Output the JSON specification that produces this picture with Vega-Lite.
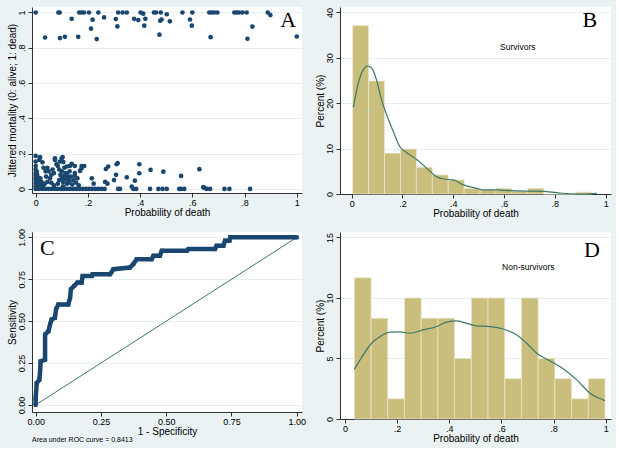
{
  "$schema": "https://vega.github.io/schema/vega-lite/v6.json",
  "background": "#EAF2F3",
  "padding": {"left": 7, "top": 7, "right": 5, "bottom": 5},
  "bounds": "flush",
  "spacing": 38,
  "columns": 2,
  "config": {
    "view": {"fill": "white", "stroke": null},
    "font": "Liberation Sans",
    "axis": {
      "labelFont": "Liberation Sans", "labelFontSize": 9, "labelColor": "black",
      "titleFont": "Liberation Sans", "titleFontSize": 10, "titleFontWeight": "normal", "titleColor": "black",
      "domainColor": "#333333", "tickColor": "#333333", "tickSize": 4, "labelPadding": 1,
      "grid": false, "labelOverlap": false
    },
    "axisX": {"titlePadding": 0},
    "axisY": {"grid": true, "gridColor": "#E6EEF0", "labelAngle": 270, "labelAlign": "center", "labelBaseline": "bottom", "titlePadding": 0, "labelOverlap": false, "labelPadding": 2},
    "title": {"font": "Liberation Sans", "fontWeight": "normal", "color": "black"}
  },
  "datasets": {
    "one": [{}],
    "scatter": [
      {"p": 0, "m": 1}, {"p": 0.087, "m": 1}, {"p": 0.092, "m": 1}, {"p": 0.167, "m": 1}, {"p": 0.176, "m": 1}, {"p": 0.185, "m": 1}, {"p": 0.204, "m": 1}, {"p": 0.24, "m": 1}, {"p": 0.316, "m": 1}, {"p": 0.333, "m": 1}, {"p": 0.349, "m": 1}, {"p": 0.402, "m": 1}, {"p": 0.412, "m": 0.993}, {"p": 0.453, "m": 1}, {"p": 0.461, "m": 1}, {"p": 0.479, "m": 1}, {"p": 0.502, "m": 0.99}, {"p": 0.562, "m": 1}, {"p": 0.6, "m": 1}, {"p": 0.665, "m": 1}, {"p": 0.674, "m": 1}, {"p": 0.683, "m": 1}, {"p": 0.696, "m": 1}, {"p": 0.761, "m": 1}, {"p": 0.77, "m": 1}, {"p": 0.779, "m": 1}, {"p": 0.792, "m": 1}, {"p": 0.808, "m": 1}, {"p": 0.889, "m": 1}, {"p": 0.899, "m": 0.985},
      {"p": 0.138, "m": 0.964}, {"p": 0.218, "m": 0.959}, {"p": 0.262, "m": 0.972}, {"p": 0.307, "m": 0.963}, {"p": 0.377, "m": 0.964}, {"p": 0.393, "m": 0.957}, {"p": 0.42, "m": 0.964}, {"p": 0.477, "m": 0.953}, {"p": 0.482, "m": 0.96}, {"p": 0.212, "m": 0.908}, {"p": 0.313, "m": 0.921}, {"p": 0.416, "m": 0.925}, {"p": 0.036, "m": 0.858}, {"p": 0.093, "m": 0.855}, {"p": 0.112, "m": 0.862}, {"p": 0.163, "m": 0.862}, {"p": 0.234, "m": 0.849}, {"p": 0.474, "m": 0.874}, {"p": 0.514, "m": 0.95}, {"p": 0.591, "m": 0.96}, {"p": 0.598, "m": 0.925}, {"p": 0.83, "m": 0.92}, {"p": 0.67, "m": 0.86}, {"p": 0.811, "m": 0.851}, {"p": 1.0, "m": 0.864},
      {"p": 0, "m": 0}, {"p": 0.012, "m": 0}, {"p": 0.024, "m": 0}, {"p": 0.036, "m": 0}, {"p": 0.048, "m": 0}, {"p": 0.06, "m": 0}, {"p": 0.072, "m": 0}, {"p": 0.084, "m": 0}, {"p": 0.096, "m": 0}, {"p": 0.108, "m": 0}, {"p": 0.12, "m": 0}, {"p": 0.132, "m": 0}, {"p": 0.144, "m": 0}, {"p": 0.156, "m": 0}, {"p": 0.168, "m": 0}, {"p": 0.18, "m": 0}, {"p": 0.192, "m": 0}, {"p": 0.204, "m": 0}, {"p": 0.216, "m": 0}, {"p": 0.228, "m": 0}, {"p": 0.24, "m": 0}, {"p": 0.252, "m": 0}, {"p": 0.264, "m": 0}, {"p": 0.316, "m": 0}, {"p": 0.323, "m": 0}, {"p": 0.374, "m": 0}, {"p": 0.385, "m": 0}, {"p": 0.438, "m": 0}, {"p": 0.47, "m": 0}, {"p": 0.486, "m": 0}, {"p": 0.502, "m": 0}, {"p": 0.55, "m": 0}, {"p": 0.557, "m": 0}, {"p": 0.569, "m": 0}, {"p": 0.655, "m": 0}, {"p": 0.668, "m": 0}, {"p": 0.723, "m": 0}, {"p": 0.742, "m": 0}, {"p": 0.821, "m": 0},
      {"p": 0, "m": 0.187}, {"p": 0, "m": 0.155}, {"p": 0, "m": 0.13}, {"p": 0, "m": 0.11}, {"p": 0, "m": 0.09}, {"p": 0, "m": 0.075}, {"p": 0, "m": 0.06}, {"p": 0, "m": 0.045}, {"p": 0, "m": 0.03}, {"p": 0, "m": 0.015}, {"p": 0.004, "m": 0.1}, {"p": 0.004, "m": 0.05}, {"p": 0.006, "m": 0.08}, {"p": 0.006, "m": 0.02}, {"p": 0.008, "m": 0.065}, {"p": 0.008, "m": 0.035}, {"p": 0.01, "m": 0.01}, {"p": 0.012, "m": 0.045}, {"p": 0.017, "m": 0.18}, {"p": 0.014, "m": 0.165}, {"p": 0.015, "m": 0.025}, {"p": 0.018, "m": 0.06}, {"p": 0.02, "m": 0.012}, {"p": 0.022, "m": 0.04}, {"p": 0.026, "m": 0.151}, {"p": 0.028, "m": 0.02}, {"p": 0.03, "m": 0.005}, {"p": 0.03, "m": 0.12}, {"p": 0.035, "m": 0.03}, {"p": 0.038, "m": 0.1},
      {"p": 0.045, "m": 0.12}, {"p": 0.05, "m": 0.1}, {"p": 0.055, "m": 0.06}, {"p": 0.06, "m": 0.08}, {"p": 0.065, "m": 0.11}, {"p": 0.074, "m": 0.174}, {"p": 0.074, "m": 0.164}, {"p": 0.08, "m": 0.14}, {"p": 0.085, "m": 0.13}, {"p": 0.093, "m": 0.155}, {"p": 0.1, "m": 0.174}, {"p": 0.103, "m": 0.18}, {"p": 0.106, "m": 0.152}, {"p": 0.11, "m": 0.12}, {"p": 0.1, "m": 0.1}, {"p": 0.095, "m": 0.08}, {"p": 0.09, "m": 0.05}, {"p": 0.085, "m": 0.03}, {"p": 0.1, "m": 0.06}, {"p": 0.105, "m": 0.04}, {"p": 0.11, "m": 0.075}, {"p": 0.115, "m": 0.055}, {"p": 0.12, "m": 0.08}, {"p": 0.12, "m": 0.03}, {"p": 0.125, "m": 0.06}, {"p": 0.13, "m": 0.045}, {"p": 0.135, "m": 0.07}, {"p": 0.119, "m": 0.127}, {"p": 0.131, "m": 0.13}, {"p": 0.138, "m": 0.142}, {"p": 0.14, "m": 0.025}, {"p": 0.145, "m": 0.05}, {"p": 0.15, "m": 0.13}, {"p": 0.15, "m": 0.09}, {"p": 0.155, "m": 0.035}, {"p": 0.16, "m": 0.06}, {"p": 0.17, "m": 0.102}, {"p": 0.176, "m": 0.13}, {"p": 0.186, "m": 0.13}, {"p": 0.176, "m": 0.117}, {"p": 0.165, "m": 0.02}, {"p": 0.07, "m": 0.02}, {"p": 0.06, "m": 0.035}, {"p": 0.045, "m": 0.04}, {"p": 0.04, "m": 0.07}, {"p": 0.15, "m": 0.075}, {"p": 0.13, "m": 0.1}, {"p": 0.115, "m": 0.09}, {"p": 0.125, "m": 0.035}, {"p": 0.105, "m": 0.015}, {"p": 0.09, "m": 0.11}, {"p": 0.07, "m": 0.09},
      {"p": 0.215, "m": 0.06}, {"p": 0.222, "m": 0.03}, {"p": 0.266, "m": 0.04}, {"p": 0.275, "m": 0.03}, {"p": 0.269, "m": 0.113}, {"p": 0.278, "m": 0.127}, {"p": 0.31, "m": 0.14}, {"p": 0.314, "m": 0.146}, {"p": 0.308, "m": 0.08}, {"p": 0.3, "m": 0.05}, {"p": 0.349, "m": 0.066}, {"p": 0.368, "m": 0.013}, {"p": 0.38, "m": 0.047}, {"p": 0.397, "m": 0.14}, {"p": 0.397, "m": 0.089}, {"p": 0.44, "m": 0.108}, {"p": 0.489, "m": 0.098}, {"p": 0.557, "m": 0.074}, {"p": 0.627, "m": 0.112}, {"p": 0.642, "m": 0.01}, {"p": 0.646, "m": 0.006}
    ],
    "histB": [
      {"start": 0.004, "end": 0.0667, "pct": 37.1}, {"start": 0.0667, "end": 0.1294, "pct": 24.9}, {"start": 0.1294, "end": 0.1921, "pct": 9.0}, {"start": 0.1921, "end": 0.2548, "pct": 9.9}, {"start": 0.2548, "end": 0.3175, "pct": 5.9}, {"start": 0.3175, "end": 0.3802, "pct": 4.2}, {"start": 0.3802, "end": 0.4429, "pct": 3.1}, {"start": 0.4429, "end": 0.5056, "pct": 1.25}, {"start": 0.5056, "end": 0.5683, "pct": 0.95}, {"start": 0.5683, "end": 0.631, "pct": 1.25}, {"start": 0.631, "end": 0.6937, "pct": 0.6}, {"start": 0.6937, "end": 0.7564, "pct": 1.25}, {"start": 0.7564, "end": 0.8191, "pct": 0}, {"start": 0.8191, "end": 0.8818, "pct": 0}, {"start": 0.8818, "end": 0.9445, "pct": 0.4}
    ],
    "densB": [
      {"x": 0.0066, "d": 19.1}, {"x": 0.026, "d": 24.4}, {"x": 0.046, "d": 27.4}, {"x": 0.062, "d": 28.2}, {"x": 0.079, "d": 27.7}, {"x": 0.098, "d": 25.1}, {"x": 0.118, "d": 20.7}, {"x": 0.138, "d": 17.4}, {"x": 0.164, "d": 13.75}, {"x": 0.19, "d": 10.4}, {"x": 0.217, "d": 9.1}, {"x": 0.256, "d": 7.6}, {"x": 0.295, "d": 5.7}, {"x": 0.335, "d": 3.8}, {"x": 0.361, "d": 3.3}, {"x": 0.4, "d": 3.1}, {"x": 0.44, "d": 2.0}, {"x": 0.492, "d": 1.25}, {"x": 0.518, "d": 0.9}, {"x": 0.571, "d": 0.9}, {"x": 0.623, "d": 0.75}, {"x": 0.689, "d": 0.65}, {"x": 0.755, "d": 0.6}, {"x": 0.807, "d": 0.3}, {"x": 0.86, "d": 0.05}, {"x": 0.912, "d": 0.0}, {"x": 0.965, "d": 0.15}
    ],
    "roc": [
      {"fpr": 0, "sens": 0}, {"fpr": 0, "sens": 0.04}, {"fpr": 0.004, "sens": 0.13}, {"fpr": 0.014, "sens": 0.15}, {"fpr": 0.017, "sens": 0.2}, {"fpr": 0.019, "sens": 0.26}, {"fpr": 0.036, "sens": 0.27}, {"fpr": 0.036, "sens": 0.42}, {"fpr": 0.049, "sens": 0.44}, {"fpr": 0.055, "sens": 0.48}, {"fpr": 0.061, "sens": 0.51}, {"fpr": 0.074, "sens": 0.52}, {"fpr": 0.078, "sens": 0.57}, {"fpr": 0.087, "sens": 0.6}, {"fpr": 0.125, "sens": 0.6}, {"fpr": 0.132, "sens": 0.64}, {"fpr": 0.135, "sens": 0.69}, {"fpr": 0.147, "sens": 0.71}, {"fpr": 0.16, "sens": 0.73}, {"fpr": 0.176, "sens": 0.73}, {"fpr": 0.18, "sens": 0.77}, {"fpr": 0.215, "sens": 0.77}, {"fpr": 0.218, "sens": 0.78}, {"fpr": 0.285, "sens": 0.78}, {"fpr": 0.298, "sens": 0.81}, {"fpr": 0.361, "sens": 0.82}, {"fpr": 0.374, "sens": 0.84}, {"fpr": 0.387, "sens": 0.87}, {"fpr": 0.444, "sens": 0.87}, {"fpr": 0.451, "sens": 0.89}, {"fpr": 0.476, "sens": 0.89}, {"fpr": 0.483, "sens": 0.92}, {"fpr": 0.579, "sens": 0.92}, {"fpr": 0.585, "sens": 0.93}, {"fpr": 0.687, "sens": 0.93}, {"fpr": 0.693, "sens": 0.95}, {"fpr": 0.719, "sens": 0.95}, {"fpr": 0.725, "sens": 0.98}, {"fpr": 0.742, "sens": 0.98}, {"fpr": 0.745, "sens": 1.0}, {"fpr": 1.0, "sens": 1.0}
    ],
    "diag": [{"fpr": 0, "sens": 0}, {"fpr": 1, "sens": 1}],
    "histD": [
      {"start": 0.036, "end": 0.1001, "pct": 11.67}, {"start": 0.1001, "end": 0.1641, "pct": 8.33}, {"start": 0.1641, "end": 0.2282, "pct": 1.67}, {"start": 0.2282, "end": 0.2923, "pct": 10}, {"start": 0.2923, "end": 0.3564, "pct": 8.33}, {"start": 0.3564, "end": 0.4204, "pct": 8.33}, {"start": 0.4204, "end": 0.4845, "pct": 5}, {"start": 0.4845, "end": 0.5486, "pct": 10}, {"start": 0.5486, "end": 0.6126, "pct": 10}, {"start": 0.6126, "end": 0.6767, "pct": 3.33}, {"start": 0.6767, "end": 0.7408, "pct": 10}, {"start": 0.7408, "end": 0.8049, "pct": 5}, {"start": 0.8049, "end": 0.8689, "pct": 3.33}, {"start": 0.8689, "end": 0.933, "pct": 1.67}, {"start": 0.933, "end": 0.9971, "pct": 3.33}
    ],
    "densD": [
      {"x": 0.036, "d": 4.1}, {"x": 0.07, "d": 5.3}, {"x": 0.102, "d": 6.26}, {"x": 0.134, "d": 6.8}, {"x": 0.173, "d": 7.17}, {"x": 0.211, "d": 7.2}, {"x": 0.249, "d": 7.09}, {"x": 0.3, "d": 7.36}, {"x": 0.352, "d": 7.64}, {"x": 0.39, "d": 8.0}, {"x": 0.428, "d": 8.1}, {"x": 0.467, "d": 7.9}, {"x": 0.505, "d": 7.7}, {"x": 0.556, "d": 7.64}, {"x": 0.607, "d": 7.44}, {"x": 0.659, "d": 6.95}, {"x": 0.697, "d": 6.26}, {"x": 0.735, "d": 5.43}, {"x": 0.786, "d": 4.8}, {"x": 0.838, "d": 4.14}, {"x": 0.889, "d": 3.23}, {"x": 0.94, "d": 2.12}, {"x": 0.997, "d": 1.52}
    ]
  },
  "concat": [
    {
      "width": 270, "height": 186,
      "layer": [
        {
          "data": {"name": "scatter"},
          "mark": {"type": "point", "filled": true, "size": 22, "color": "#1A476F", "opacity": 1},
          "encoding": {
            "x": {"field": "p", "type": "quantitative", "scale": {"domain": [-0.014, 1.02], "nice": false, "zero": false},
                  "axis": {"values": [0, 0.2, 0.4, 0.6, 0.8, 1], "tickCount": 10, "labelOverlap": false, "labelExpr": "datum.value == 0 ? '0' : datum.value == 1 ? '1' : '.' + round(datum.value * 10)", "title": "Probability of death"}},
            "y": {"field": "m", "type": "quantitative", "scale": {"domain": [-0.023, 1.031], "nice": false, "zero": false},
                  "axis": {"values": [0, 0.2, 0.4, 0.6, 0.8, 1], "tickCount": 10, "labelOverlap": false, "labelExpr": "datum.value == 0 ? '0' : datum.value == 1 ? '1' : '.' + round(datum.value * 10)", "title": "Jittered mortality (0: alive; 1: dead)"}}
          }
        },
        {
          "data": {"name": "one"},
          "mark": {"type": "text", "font": "Liberation Serif", "fontSize": 22, "align": "center", "baseline": "alphabetic", "color": "black"},
          "encoding": {"x": {"datum": 0.967, "type": "quantitative"}, "y": {"datum": 0.919, "type": "quantitative"}, "text": {"value": "A"}}
        }
      ]
    },
    {
      "width": 271, "height": 187,
      "layer": [
        {
          "data": {"name": "histB"},
          "mark": {"type": "rect", "color": "#CABE7C", "stroke": "#EDE8D2", "strokeWidth": 0.7},
          "encoding": {
            "x": {"field": "start", "type": "quantitative", "scale": {"domain": [-0.046, 1.021], "nice": false, "zero": false},
                  "axis": {"values": [0, 0.2, 0.4, 0.6, 0.8, 1], "tickCount": 10, "labelOverlap": false, "labelExpr": "datum.value == 0 ? '0' : datum.value == 1 ? '1' : '.' + round(datum.value * 10)", "title": "Probability of death"}},
            "x2": {"field": "end"},
            "y": {"field": "pct", "type": "quantitative", "scale": {"domain": [0, 41.2], "nice": false},
                  "axis": {"values": [0, 10, 20, 30, 40], "tickCount": 10, "labelOverlap": false, "title": "Percent (%)"}},
            "y2": {"datum": 0}
          }
        },
        {
          "data": {"name": "densB"},
          "mark": {"type": "line", "color": "#3F7868", "strokeWidth": 1.2, "interpolate": "monotone"},
          "encoding": {"x": {"field": "x", "type": "quantitative"}, "y": {"field": "d", "type": "quantitative"}}
        },
        {
          "data": {"name": "one"},
          "mark": {"type": "text", "font": "Liberation Sans", "fontSize": 8.5, "align": "center", "baseline": "middle", "color": "black"},
          "encoding": {"x": {"datum": 0.654, "type": "quantitative"}, "y": {"datum": 32.4, "type": "quantitative"}, "text": {"value": "Survivors"}}
        },
        {
          "data": {"name": "one"},
          "mark": {"type": "text", "font": "Liberation Serif", "fontSize": 22, "align": "center", "baseline": "alphabetic", "color": "black"},
          "encoding": {"x": {"datum": 0.938, "type": "quantitative"}, "y": {"datum": 36.8, "type": "quantitative"}, "text": {"value": "B"}}
        }
      ]
    },
    {
      "width": 270, "height": 180,
      "title": {"text": "Area under ROC curve = 0.8413", "orient": "bottom", "anchor": "start", "frame": "group", "fontSize": 7, "offset": 0},
      "layer": [
        {
          "data": {"name": "diag"},
          "mark": {"type": "line", "color": "#3F7868", "strokeWidth": 1},
          "encoding": {"x": {"field": "fpr", "type": "quantitative"}, "y": {"field": "sens", "type": "quantitative"}}
        },
        {
          "data": {"name": "roc"},
          "mark": {"type": "line", "color": "#1A476F", "strokeWidth": 4.5, "point": {"shape": "square", "size": 16, "color": "#1A476F"}},
          "encoding": {
            "x": {"field": "fpr", "type": "quantitative", "scale": {"domain": [-0.014, 1.02], "nice": false, "zero": false},
                  "axis": {"values": [0, 0.25, 0.5, 0.75, 1], "tickCount": 10, "labelOverlap": false, "format": ".2f", "title": "1 - Specificity"}},
            "y": {"field": "sens", "type": "quantitative", "scale": {"domain": [-0.042, 1.032], "nice": false, "zero": false},
                  "axis": {"values": [0, 0.25, 0.5, 0.75, 1], "tickCount": 10, "labelOverlap": false, "format": ".2f", "title": "Sensitivity"}}
          }
        },
        {
          "data": {"name": "one"},
          "mark": {"type": "text", "font": "Liberation Serif", "fontSize": 22, "align": "center", "baseline": "alphabetic", "color": "black"},
          "encoding": {"x": {"datum": 0.045, "type": "quantitative"}, "y": {"datum": 0.897, "type": "quantitative"}, "text": {"value": "C"}}
        }
      ]
    },
    {
      "width": 271, "height": 187,
      "layer": [
        {
          "data": {"name": "histD"},
          "mark": {"type": "rect", "color": "#CABE7C", "stroke": "#EDE8D2", "strokeWidth": 0.7},
          "encoding": {
            "x": {"field": "start", "type": "quantitative", "scale": {"domain": [-0.019, 1.02], "nice": false, "zero": false},
                  "axis": {"values": [0, 0.2, 0.4, 0.6, 0.8, 1], "tickCount": 10, "labelOverlap": false, "labelExpr": "datum.value == 0 ? '0' : datum.value == 1 ? '1' : '.' + round(datum.value * 10)", "title": "Probability of death"}},
            "x2": {"field": "end"},
            "y": {"field": "pct", "type": "quantitative", "scale": {"domain": [0, 15.45], "nice": false},
                  "axis": {"values": [0, 5, 10, 15], "tickCount": 10, "labelOverlap": false, "title": "Percent (%)"}},
            "y2": {"datum": 0}
          }
        },
        {
          "data": {"name": "densD"},
          "mark": {"type": "line", "color": "#3F7868", "strokeWidth": 1.2, "interpolate": "monotone"},
          "encoding": {"x": {"field": "x", "type": "quantitative"}, "y": {"field": "d", "type": "quantitative"}}
        },
        {
          "data": {"name": "one"},
          "mark": {"type": "text", "font": "Liberation Sans", "fontSize": 8.5, "align": "center", "baseline": "middle", "color": "black"},
          "encoding": {"x": {"datum": 0.703, "type": "quantitative"}, "y": {"datum": 12.55, "type": "quantitative"}, "text": {"value": "Non-survivors"}}
        },
        {
          "data": {"name": "one"},
          "mark": {"type": "text", "font": "Liberation Serif", "fontSize": 22, "align": "center", "baseline": "alphabetic", "color": "black"},
          "encoding": {"x": {"datum": 0.947, "type": "quantitative"}, "y": {"datum": 13.4, "type": "quantitative"}, "text": {"value": "D"}}
        }
      ]
    }
  ]
}
